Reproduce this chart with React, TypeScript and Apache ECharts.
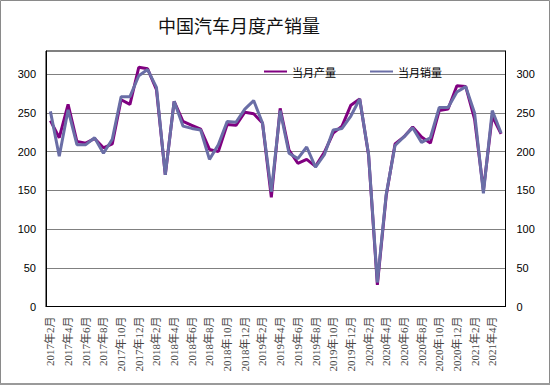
import React, { useEffect, useRef } from "react";
import * as echarts from "echarts";

const categories: string[] = (() => {
  const out: string[] = [];
  let y = 2017;
  let m = 2;
  for (let i = 0; i < 52; i++) {
    out.push(`${y}年${m}月`);
    m++;
    if (m > 12) {
      m = 1;
      y++;
    }
  }
  return out;
})();

const production: number[] = [
  240, 218, 261, 213, 211, 217, 205, 210, 267, 261, 309, 307,
  280, 170, 265, 239, 234, 229, 203, 200, 235, 234, 251, 249,
  237, 141, 256, 202, 185, 190, 181, 199, 224, 233, 260, 268,
  196, 28, 143, 210, 219, 232, 219, 211, 253, 255, 285, 284,
  242, 150, 246, 223,
];

const sales: number[] = [
  252, 194, 254, 209, 209, 218, 198, 216, 271, 271, 298, 306,
  283, 170, 265, 233, 230, 228, 190, 209, 239, 238, 255, 266,
  237, 148, 253, 198, 191, 206, 180, 196, 228, 230, 246, 268,
  197, 31, 145, 208, 219, 231, 212, 218, 257, 257, 277, 284,
  250, 146, 253, 224,
];

const seriesNames = ["当月产量", "当月销量"];
const title = "中国汽车月度产销量";

export default function App() {
  const ref = useRef<HTMLDivElement>(null);
  useEffect(() => {
    if (!ref.current) return;
    const chart = echarts.init(ref.current, null, { renderer: "svg" });
    const yLabel = {
      color: "#000",
      fontSize: 11,
      fontFamily: "Liberation Sans, Arial, sans-serif",
      margin: 10,
      showMaxLabel: false,
      formatter: (v: number) => (v % 50 === 0 ? String(v) : ""),
    };
    chart.setOption({
      animation: false,
      backgroundColor: "#fff",
      title: {
        text: title,
        left: 153,
        top: 11,
        textStyle: {
          fontSize: 18,
          fontWeight: "normal",
          color: "#111",
          fontFamily: "Noto Sans CJK SC, sans-serif",
        },
      },
      legend: {
        data: seriesNames,
        left: 259,
        top: 61,
        icon: "rect",
        itemWidth: 23,
        itemHeight: 2,
        itemGap: 34,
        textStyle: {
          fontSize: 11,
          color: "#000",
          fontFamily: "Noto Sans CJK SC, sans-serif",
        },
      },
      grid: {
        left: 46,
        right: 44.5,
        top: 51,
        bottom: 78.5,
        show: true,
        borderColor: "#000",
        borderWidth: 1,
        backgroundColor: "transparent",
      },
      xAxis: {
        type: "category",
        data: categories,
        boundaryGap: true,
        axisLine: { lineStyle: { color: "#000", width: 1 } },
        axisTick: {
          inside: true,
          interval: 0,
          length: 3,
          lineStyle: { color: "#000" },
        },
        axisLabel: {
          interval: 1,
          rotate: 90,
          margin: 10,
          color: "#444",
          fontSize: 11,
          fontFamily: "Liberation Serif, Noto Sans CJK SC, serif",
        },
      },
      yAxis: [
        {
          type: "value",
          min: 0,
          max: 330,
          interval: 50,
          position: "left",
          axisLine: { show: true, lineStyle: { color: "#000" } },
          axisTick: { show: false },
          splitLine: { show: true, lineStyle: { color: "#808080", width: 1 } },
          axisLabel: yLabel,
        },
        {
          type: "value",
          min: 0,
          max: 330,
          interval: 50,
          position: "right",
          axisLine: { show: true, lineStyle: { color: "#000" } },
          axisTick: { show: false },
          splitLine: { show: false },
          axisLabel: { ...yLabel, margin: 11 },
        },
      ],
      series: [
        {
          name: seriesNames[0],
          type: "line",
          data: production,
          symbol: "none",
          color: "#800080",
          lineStyle: { width: 3, color: "#800080" },
        },
        {
          name: seriesNames[1],
          type: "line",
          data: sales,
          symbol: "none",
          color: "#6a6ea6",
          lineStyle: { width: 3, color: "#6a6ea6" },
        },
      ],
      graphic: [
        {
          type: "rect",
          shape: { x: 0.5, y: 0.5, width: 549, height: 383 },
          style: { fill: "none", stroke: "#8a8a8a", lineWidth: 1 },
          silent: true,
        },
        {
          type: "line",
          shape: { x1: 0, y1: 384, x2: 550, y2: 384 },
          style: { stroke: "#9a9a9a", lineWidth: 2 },
          silent: true,
        },
      ],
    });
    return () => chart.dispose();
  }, []);
  return (
    <div
      ref={ref}
      style={{ position: "absolute", left: 0, top: 0, width: 550, height: 385 }}
    />
  );
}
